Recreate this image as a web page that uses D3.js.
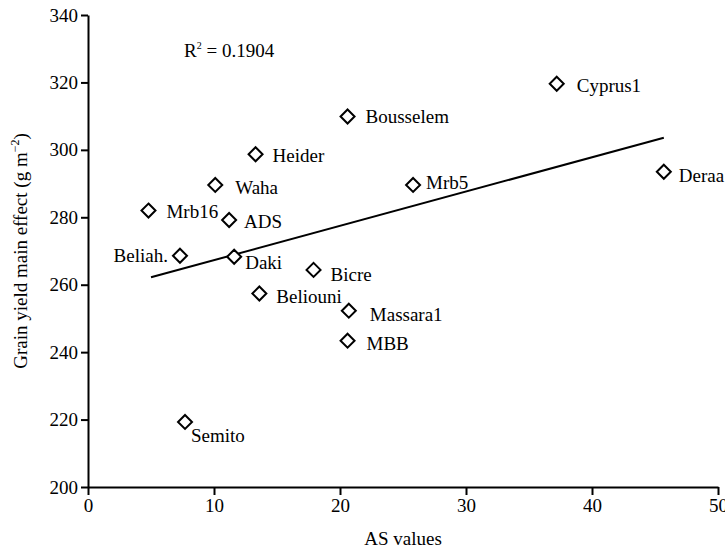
<!DOCTYPE html>
<html>
<head>
<meta charset="utf-8">
<script src="https://cdn.jsdelivr.net/npm/d3@7"></script>
<style>
  body { margin: 0; background: #fff; }
  svg { display: block; }
  text { font-family: "Liberation Serif", "Times New Roman", serif; fill: #000; }
</style>
</head>
<body>
<svg width="725" height="550"></svg>
<script>
// data
var genotypes = ["Cyprus1", "Bousselem", "Heider", "Waha", "Mrb16", "ADS", "Beliah.", "Daki",
                 "Bicre", "Beliouni", "Massara1", "MBB", "Mrb5", "Deraa", "Semito"];
var asValues = [37.2, 20.6, 13.3, 10.1, 4.8, 11.2, 7.3, 11.6, 17.9, 13.6, 20.7, 20.6, 25.8, 45.7, 7.7];
var grainYield = [319.6, 309.9, 298.7, 289.6, 282.0, 279.2, 268.6, 268.3, 264.4, 257.4, 252.3, 243.4, 289.6, 293.5, 219.3];

// fitted line ends
var trendX = [5.0, 45.7];
var trendY = [262.2, 303.6];

var xTicks = [0, 10, 20, 30, 40, 50];
var yTicks = [200, 220, 240, 260, 280, 300, 320, 340];

// label placement relative to the marker [dx, dy, anchor]
var labelPlace = {
    "Cyprus1": [20, 8, "start"],
    "Bousselem": [18, 7, "start"],
    "Heider": [17, 8, "start"],
    "Waha": [20, 9, "start"],
    "Mrb16": [18, 7, "start"],
    "ADS": [15, 8, "start"],
    "Beliah.": [-12, 6, "end"],
    "Daki": [11, 12, "start"],
    "Bicre": [17, 11, "start"],
    "Beliouni": [17, 10, "start"],
    "Massara1": [21, 10, "start"],
    "MBB": [19, 9, "start"],
    "Mrb5": [13, 4, "start"],
    "Deraa": [15, 10, "start"],
    "Semito": [6, 20, "start"]
};

var svg = d3.select("svg");
var FONT = 19;

var margin = { left: 88, right: 7, top: 15, bottom: 63 };
var width = 725 - margin.left - margin.right,
    height = 550 - margin.top - margin.bottom;

var x = d3.scaleLinear().domain([0, 50]).range([margin.left, margin.left + width]);
var y = d3.scaleLinear().domain([200, 340]).range([margin.top + height, margin.top]);

// axes
var xAxis = svg.append("g")
    .attr("transform", "translate(0," + (margin.top + height) + ")")
    .call(d3.axisBottom(x).tickValues(xTicks).tickSize(8).tickPadding(4).tickSizeOuter(0));

var yAxis = svg.append("g")
    .attr("transform", "translate(" + margin.left + ",0)")
    .call(d3.axisLeft(y).tickValues(yTicks).tickSize(7).tickPadding(3).tickSizeOuter(0));

[xAxis, yAxis].forEach(function (g) {
    g.selectAll(".domain").attr("stroke", "#000").attr("stroke-width", 2);
    g.selectAll(".tick line").attr("stroke", "#000").attr("stroke-width", 2);
    g.selectAll(".tick text")
        .attr("font-size", FONT)
        .attr("font-family", "Liberation Serif, serif")
        .attr("fill", "#000");
});

// axis titles
svg.append("text")
    .attr("x", x(25))
    .attr("y", 545)
    .attr("text-anchor", "middle")
    .attr("font-size", FONT)
    .text("AS values");

var yTitle = svg.append("text")
    .attr("transform", "translate(27," + y(270) + ") rotate(-90)")
    .attr("text-anchor", "middle")
    .attr("font-size", FONT);
yTitle.append("tspan").text("Grain yield main effect (g m");
yTitle.append("tspan").attr("font-size", 12).attr("dy", -8).text("\u22122");
yTitle.append("tspan").attr("dy", 8).text(")");

// R squared
var r2 = svg.append("text")
    .attr("x", 184)
    .attr("y", 57)
    .attr("font-size", FONT);
r2.append("tspan").text("R");
r2.append("tspan").attr("font-size", 10).attr("dy", -8).text("2");
r2.append("tspan").attr("dy", 8).text(" = 0.1904");

// trend line
svg.append("line")
    .attr("x1", x(trendX[0])).attr("y1", y(trendY[0]))
    .attr("x2", x(trendX[1])).attr("y2", y(trendY[1]))
    .attr("stroke", "#000")
    .attr("stroke-width", 2);

// points
var points = genotypes.map(function (g, i) {
    return { name: g, as: asValues[i], gy: grainYield[i] };
});

var R = 7;
svg.append("g")
    .selectAll("path")
    .data(points)
    .enter().append("path")
    .attr("d", function (d) {
        var cx = x(d.as), cy = y(d.gy);
        return "M" + cx + "," + (cy - R) + "L" + (cx + R) + "," + cy +
               "L" + cx + "," + (cy + R) + "L" + (cx - R) + "," + cy + "Z";
    })
    .attr("fill", "#fff")
    .attr("stroke", "#000")
    .attr("stroke-width", 2);

svg.append("g")
    .selectAll("text")
    .data(points)
    .enter().append("text")
    .attr("x", function (d) { return x(d.as) + labelPlace[d.name][0]; })
    .attr("y", function (d) { return y(d.gy) + labelPlace[d.name][1]; })
    .attr("text-anchor", function (d) { return labelPlace[d.name][2]; })
    .attr("font-size", FONT)
    .text(function (d) { return d.name; });
</script>
</body>
</html>
